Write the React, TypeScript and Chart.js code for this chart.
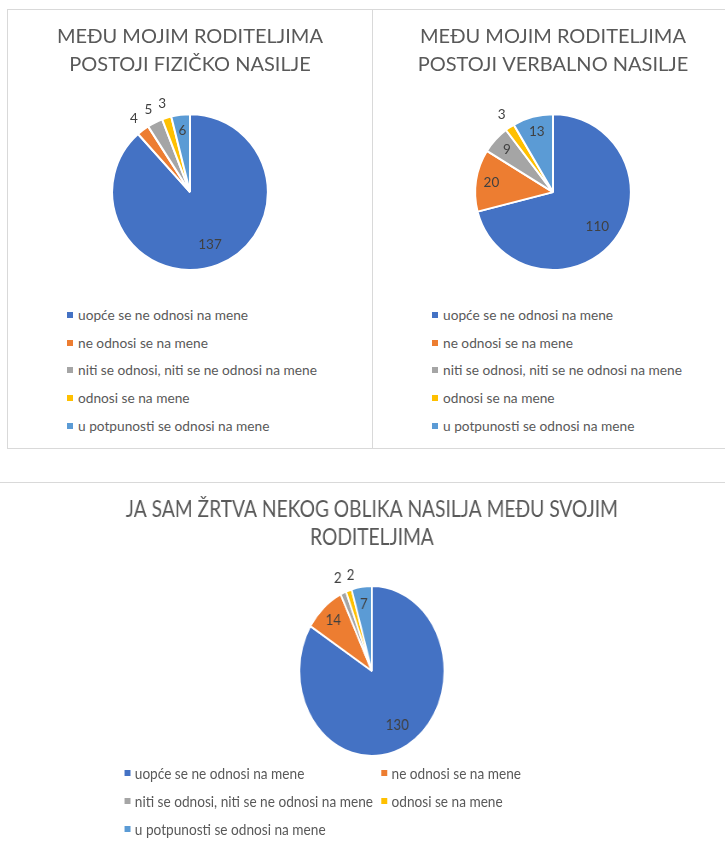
import React, { useEffect, useRef } from "react";
import { Chart, registerables } from "chart.js";

Chart.register(...registerables);

const CATEGORIES = [
  "uopće se ne odnosi na mene",
  "ne odnosi se na mene",
  "niti se odnosi, niti se ne odnosi na mene",
  "odnosi se na mene",
  "u potpunosti se odnosi na mene",
];
const COLORS = ["#4472C4", "#ED7D31", "#A5A5A5", "#FFC000", "#5B9BD5"];

const FIZICKO_VALUES = [137, 4, 5, 3, 6];
const VERBALNO_VALUES = [110, 20, 9, 3, 13];
const ZRTVA_VALUES = [130, 14, 2, 2, 7];

const FIZICKO_TITLE = ["MEĐU MOJIM RODITELJIMA", "POSTOJI FIZIČKO NASILJE"];
const VERBALNO_TITLE = ["MEĐU MOJIM RODITELJIMA", "POSTOJI VERBALNO NASILJE"];
const ZRTVA_TITLE = ["JA SAM ŽRTVA NEKOG OBLIKA NASILJA MEĐU SVOJIM", "RODITELJIMA"];

const FONT = "Lato, 'Noto Sans', sans-serif";
const TEXT = "#595959";

function makeLabelPlugin(size: number) {
  return {
    id: "pieValueLabels",
    afterDatasetsDraw(chart: any) {
      const ctx = chart.ctx;
      const meta = chart.getDatasetMeta(0);
      const data = chart.data.datasets[0].data as number[];
      const total = data.reduce((a, b) => a + b, 0);
      ctx.save();
      ctx.font = `${size}px ${FONT}`;
      ctx.fillStyle = "#404040";
      ctx.textAlign = "center";
      ctx.textBaseline = "middle";
      let prevOutside: { x: number; w: number } | null = null;
      meta.data.forEach((arc: any, i: number) => {
        const p = arc.getProps(["x", "y", "startAngle", "endAngle", "outerRadius"], true);
        const mid = (p.startAngle + p.endAngle) / 2;
        const frac = data[i] / total;
        let f = 0.8;
        const outside = frac < 0.035;
        if (outside) f = 1.19;
        else if (frac > 0.5) f = 0.72;
        const r = p.outerRadius * f;
        const text = String(data[i]);
        let x = p.x + Math.cos(mid) * r;
        const y = p.y + Math.sin(mid) * r;
        if (outside) {
          const w = ctx.measureText(text).width;
          if (prevOutside && x - w / 2 < prevOutside.x + prevOutside.w / 2 + 6) {
            x = prevOutside.x + prevOutside.w / 2 + 6 + w / 2;
          }
          prevOutside = { x, w };
        }
        ctx.fillText(text, x, y);
      });
      ctx.restore();
    },
  };
}

type PieProps = {
  values: number[];
  title: string[];
  width: number;
  height: number;
  titleSize: number;
  titleLine: number;
  titleTop: number;
  titleBottom: number;
  labelSize: number;
  padLeft: number;
};

function PieCanvas(props: PieProps) {
  const ref = useRef<HTMLCanvasElement | null>(null);
  useEffect(() => {
    if (!ref.current) return;
    const chart = new Chart(ref.current, {
      type: "pie",
      data: {
        labels: CATEGORIES,
        datasets: [
          {
            data: props.values,
            backgroundColor: COLORS,
            borderColor: "#ffffff",
            borderWidth: 2,
          },
        ],
      },
      options: {
        responsive: false,
        animation: false,
        layout: { padding: { left: props.padLeft, right: 0, top: 0, bottom: 0 } },
        plugins: {
          legend: { display: false },
          tooltip: { enabled: false },
          title: {
            display: true,
            text: props.title,
            color: TEXT,
            font: { family: FONT, size: props.titleSize, weight: "normal", lineHeight: props.titleLine },
            padding: { top: props.titleTop, bottom: props.titleBottom },
          },
        },
      } as any,
      plugins: [makeLabelPlugin(props.labelSize)],
    });
    return () => chart.destroy();
  }, []);
  return (
    <canvas
      ref={ref}
      width={props.width}
      height={props.height}
      style={{ display: "block", width: props.width, height: props.height }}
    />
  );
}

function LegendRow({ color, label, size, sqW, sqH, lh }: any) {
  return (
    <div style={{ height: lh, lineHeight: `${lh}px`, whiteSpace: "nowrap", display: "flex", alignItems: "center" }}>
      <span style={{ display: "inline-block", width: sqW, height: sqH, background: color, marginRight: 5 }} />
      <span style={{ fontFamily: FONT, fontSize: size, color: TEXT }}>{label}</span>
    </div>
  );
}

function TopBox({ left, width, values, title }: any) {
  return (
    <div
      style={{
        position: "absolute",
        left,
        top: 9,
        width,
        height: 440,
        boxSizing: "border-box",
        border: "1px solid #D9D9D9",
        background: "#fff",
      }}
    >
      <PieCanvas
        values={values}
        title={title}
        width={width - 2}
        height={261}
        titleSize={20}
        titleLine={1.38}
        titleTop={13}
        titleBottom={35}
        labelSize={13.5}
        padLeft={0}
      />
      <div style={{ position: "absolute", left: 59, top: 291 }}>
        {CATEGORIES.map((c, i) => (
          <LegendRow key={c} color={COLORS[i]} label={c} size={13.7} sqW={6} sqH={6} lh={27.7} />
        ))}
      </div>
    </div>
  );
}

export default function App() {
  const sx = 0.853;
  return (
    <div style={{ position: "absolute", left: 0, top: 0, width: 725, height: 844, overflow: "hidden", background: "#fff" }}>
      <TopBox left={7} width={366} values={FIZICKO_VALUES} title={FIZICKO_TITLE} />
      <TopBox left={372} width={362} values={VERBALNO_VALUES} title={VERBALNO_TITLE} />
      <div
        style={{
          position: "absolute",
          left: -2,
          top: 482,
          width: 740,
          height: 400,
          borderTop: "1px solid #D9D9D9",
        }}
      />
      <div
        style={{
          position: "absolute",
          left: 0,
          top: 483,
          width: 850,
          height: 361,
          transform: `scaleX(${sx})`,
          transformOrigin: "0 0",
        }}
      >
        <PieCanvas
          values={ZRTVA_VALUES}
          title={ZRTVA_TITLE}
          width={850}
          height={274}
          titleSize={22.5}
          titleLine={1.245}
          titleTop={13}
          titleBottom={33}
          labelSize={15.5}
          padLeft={22}
        />
        <div style={{ position: "absolute", left: 146, top: 276 }}>
          <LegendRow color={COLORS[0]} label={CATEGORIES[0]} size={16} sqW={7} sqH={6} lh={28} />
          <LegendRow color={COLORS[2]} label={CATEGORIES[2]} size={16} sqW={7} sqH={6} lh={28} />
          <LegendRow color={COLORS[4]} label={CATEGORIES[4]} size={16} sqW={7} sqH={6} lh={28} />
        </div>
        <div style={{ position: "absolute", left: 447, top: 276 }}>
          <LegendRow color={COLORS[1]} label={CATEGORIES[1]} size={16} sqW={7} sqH={6} lh={28} />
          <LegendRow color={COLORS[3]} label={CATEGORIES[3]} size={16} sqW={7} sqH={6} lh={28} />
        </div>
      </div>
    </div>
  );
}
